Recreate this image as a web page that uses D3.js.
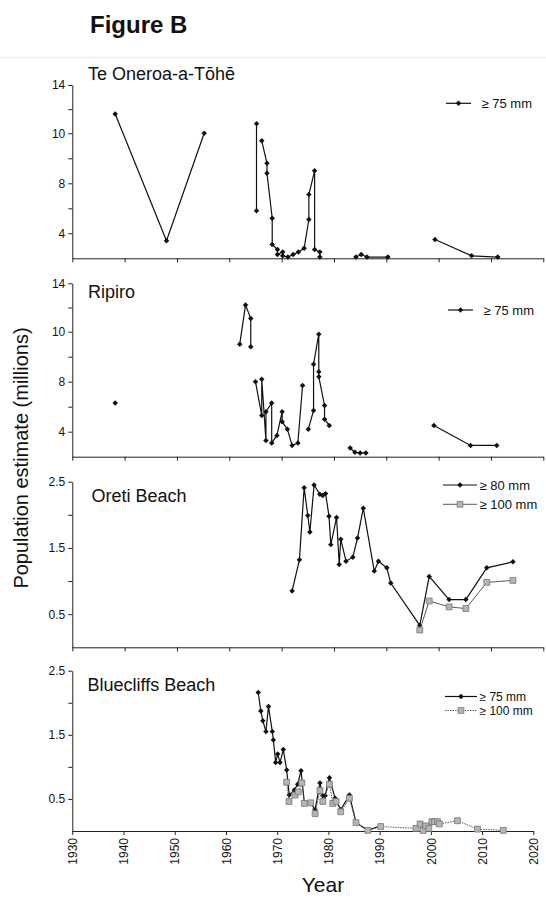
<!DOCTYPE html>
<html>
<head>
<meta charset="utf-8">
<script src="https://d3js.org/d3.v7.min.js"></script>
<style>
  body { margin: 0; background: #fff; }
  svg text { font-family: "Liberation Sans", Arial, sans-serif; fill: #111; }
</style>
</head>
<body>
<div id="chart"></div>
<script>

// [year, population in millions]; null breaks the line between surveys
var teOneroa75 = [
  [1938.2, 11.6], [1948.0, 3.4], [1955.2, 10.0], null,
  [1965.2, 10.8], [1965.2, 5.8], null,
  [1966.2, 9.7], [1967.2, 8.8], [1967.2, 8.4], [1968.2, 5.2], [1968.2, 3.1],
  [1969.2, 2.7], [1969.2, 2.3], [1970.2, 2.5], [1970.2, 2.2], [1971.2, 2.1],
  [1972.2, 2.3], [1973.2, 2.5], [1974.3, 2.8], [1975.2, 5.1], [1975.2, 7.1],
  [1976.3, 8.5], [1976.3, 2.7], [1977.3, 2.5], [1977.3, 2.1], null,
  [1984.2, 2.1], [1985.2, 2.3], [1986.3, 2.1], [1990.3, 2.1], null,
  [1999.3, 3.5], [2006.3, 2.2], [2011.3, 2.1]
];

var ripiro75 = [
  [1938.2, 6.3], null,
  [1962.0, 9.5], [1963.1, 12.2], [1964.1, 11.1], [1964.1, 9.4], null,
  [1965.0, 8.0], [1966.2, 5.3], [1966.2, 8.1], [1967.0, 3.3], [1967.0, 5.6],
  [1968.1, 6.3], [1968.1, 3.1], [1969.1, 3.7], [1970.1, 5.6], [1970.1, 4.8],
  [1971.1, 4.2], [1972.0, 2.9], [1973.1, 3.1], [1974.0, 7.7], null,
  [1975.1, 4.2], [1976.1, 5.7], [1976.1, 8.7], [1977.1, 9.9], [1977.1, 8.4],
  [1977.1, 8.2], [1978.2, 6.1], [1978.2, 5.0], [1979.1, 4.5], null,
  [1983.1, 2.7], [1984.0, 2.35], [1985.0, 2.3], [1986.1, 2.3], null,
  [1999.1, 4.5], [2006.1, 2.9], [2011.1, 2.9]
];

var oreti80 = [
  [1972.0, 0.85], [1973.4, 1.32], [1974.3, 2.41], [1975.0, 1.99], [1975.4, 1.74],
  [1976.2, 2.45], [1977.3, 2.31], [1977.85, 2.29], [1978.4, 2.32], [1979.05, 1.98],
  [1979.4, 1.55], [1980.5, 1.96], [1981.0, 1.25], [1981.3, 1.63], [1982.3, 1.30],
  [1983.6, 1.36], [1984.5, 1.65], [1985.6, 2.10], [1987.7, 1.15], [1988.5, 1.30],
  [1990.1, 1.20], [1990.85, 0.97], [1996.4, 0.33], [1998.2, 1.07], [2002.0, 0.72],
  [2005.2, 0.72], [2009.2, 1.20], [2014.2, 1.29]
];
var oreti100 = [
  [1996.4, 0.26], [1998.2, 0.70], [2002.0, 0.61], [2005.2, 0.585], [2009.2, 0.98], [2014.2, 1.01]
];

var bluecliffs75 = [
  [1966.3, 2.16], [1966.8, 1.87], [1967.2, 1.72], [1967.8, 1.55], [1968.3, 1.94],
  [1969.05, 1.55], [1969.25, 1.42], [1969.7, 1.07], [1970.1, 1.20], [1970.55, 1.07],
  [1971.2, 1.27], [1971.85, 0.95], [1972.35, 0.56], [1973.35, 0.64], [1974.0, 0.73],
  [1974.65, 0.94], [1975.3, 0.44], [1976.55, 0.44], [1977.4, 0.33], [1978.35, 0.75],
  [1978.9, 0.55], [1979.35, 0.55], [1980.2, 0.83], [1981.3, 0.51], [1982.4, 0.33],
  [1984.1, 0.56], [1985.4, 0.13], [1987.7, 0.01], [1990.2, 0.08]
];
var bluecliffs100 = [
  [1971.85, 0.76], [1972.3, 0.46], [1973.5, 0.56], [1974.1, 0.61], [1974.8, 0.75],
  [1975.3, 0.43], [1976.55, 0.44], [1977.4, 0.27], [1978.35, 0.63], [1978.9, 0.46],
  [1980.2, 0.73], [1980.85, 0.43], [1981.5, 0.46], [1982.4, 0.30], [1984.1, 0.51],
  [1985.4, 0.13], [1987.7, 0.01], [1990.2, 0.07], [1997.1, 0.04], [1997.9, 0.11],
  [1998.5, 0.01], [1999.0, 0.08], [1999.6, 0.04], [2000.2, 0.145], [2000.7, 0.145],
  [2001.3, 0.145], [2001.65, 0.11], [2005.2, 0.16], [2009.1, 0.03], [2014.15, 0.01]
];

var yearTicks = [1930, 1940, 1950, 1960, 1970, 1980, 1990, 2000, 2010, 2020];
var northTicks = [14, 12, 10, 9, 8, 6, 4];
var northTickLabels = ["14", "", "10", "", "8", "", "4"];
var southTicks = [2.5, 2, 1.5, 1, 0.5];
var southTickLabels = ["2.5", "", "1.5", "", "0.5"];

var W = 546, H = 899;

var svg = d3.select("#chart").append("svg")
    .attr("width", W)
    .attr("height", H);

svg.append("text")
    .attr("x", 90).attr("y", 33)
    .style("font-size", "24px").style("font-weight", "bold")
    .text("Figure B");

svg.append("line")
    .attr("x1", 0).attr("x2", W).attr("y1", 57.5).attr("y2", 57.5)
    .attr("stroke", "#ececec");

// the top two panels share the odd 14/10/8/4 axis of the original
var panels = [
  { name: "Te Oneroa-a-Tōhē", top: 85, bottom: 258.3, xRight: 543.3, titleX: 88, titleY: 80,
    north: true, series: [teOneroa75], legend: ["≥ 75 mm"], legX: 446, legY: 103.3, legLine: 25, legFont: 13 },
  { name: "Ripiro", top: 283.3, bottom: 456.7, xRight: 543.3, titleX: 88, titleY: 297.5,
    north: true, series: [ripiro75], legend: ["≥ 75 mm"], legX: 448, legY: 310, legLine: 25, legFont: 13 },
  { name: "Oreti Beach", top: 481.7, bottom: 647.3, xRight: 543.3, titleX: 91.5, titleY: 502,
    north: false, series: [oreti80, oreti100], legend: ["≥ 80 mm", "≥ 100 mm"], legX: 443, legY: 485, legLine: 34, legGap: 19.3, legFont: 13 },
  { name: "Bluecliffs Beach", top: 670.7, bottom: 831, xRight: 533.3, titleX: 87.5, titleY: 690.5,
    north: false, series: [bluecliffs75, bluecliffs100], legend: ["≥ 75 mm", "≥ 100 mm"], legX: 445, legY: 696.5, legLine: 32, legGap: 14, legFont: 12, dotted: true, last: true }
];

var left = 72.3;
var diamond = d3.symbol().type(d3.symbolSquare).size(15);
var square = d3.symbol().type(d3.symbolSquare).size(34);

panels.forEach(function(p) {
  var g = svg.append("g");

  var x = d3.scaleLinear().domain([1930, 2020]).range([left, p.xRight]);
  var y;
  if (p.north) {
    y = d3.scaleLinear()
      .domain([2, 4, 8, 10, 14])
      .range([p.bottom, p.bottom - 25, p.bottom - 75, p.bottom - 125, p.top]);
  } else {
    y = d3.scaleLinear().domain([0, 2.5]).range([p.bottom, p.top]);
  }

  var ticks = p.north ? northTicks : southTicks;
  var labels = p.north ? northTickLabels : southTickLabels;

  var yAxis = g.append("g")
    .attr("transform", "translate(" + left + ",0)")
    .call(d3.axisLeft(y).tickValues(ticks)
      .tickFormat(function(d, i) { return labels[i]; })
      .tickSize(4).tickSizeOuter(0).tickPadding(3));
  yAxis.selectAll("text").style("font-size", "12px");

  var xAxis = g.append("g")
    .attr("transform", "translate(0," + p.bottom + ")")
    .call(d3.axisBottom(x).tickValues(yearTicks)
      .tickFormat(p.last ? d3.format("d") : function() { return ""; })
      .tickSize(4).tickSizeOuter(0));
  if (p.last) {
    xAxis.selectAll("text")
      .attr("transform", "rotate(-90)")
      .attr("x", -7).attr("y", 0).attr("dy", "0.35em")
      .style("text-anchor", "end")
      .style("font-size", "12px");
  }
  g.selectAll(".domain, .tick line").attr("stroke", "#222").attr("stroke-width", 1);

  g.append("text")
    .attr("x", p.titleX).attr("y", p.titleY)
    .style("font-size", "18px")
    .text(p.name);

  var line = d3.line()
    .defined(function(d) { return d !== null; })
    .x(function(d) { return x(d[0]); })
    .y(function(d) { return y(d[1]); });

  p.series.forEach(function(data, k) {
    var grey = k === 1;
    g.append("path")
      .datum(data)
      .attr("fill", "none")
      .attr("stroke", grey ? "#5a5a5a" : "#111")
      .attr("stroke-width", grey ? 1 : 1.2)
      .attr("stroke-dasharray", grey && p.dotted ? "1.5,1" : null)
      .attr("d", line);

    g.selectAll(null)
      .data(data.filter(function(d) { return d !== null; }))
      .enter().append("path")
      .attr("d", grey ? square : diamond)
      .attr("transform", function(d) {
        return "translate(" + x(d[0]) + "," + y(d[1]) + ")" + (grey ? "" : " rotate(45)");
      })
      .attr("fill", grey ? "#b5b5b5" : "#111")
      .attr("stroke", grey ? "#767676" : "none")
      .attr("stroke-width", 0.8);
  });

  // legend
  p.legend.forEach(function(label, k) {
    var grey = k === 1;
    var ly = p.legY + k * (p.legGap || 0);
    var lg = g.append("g").attr("transform", "translate(" + p.legX + "," + ly + ")");
    lg.append("line")
      .attr("x1", 0).attr("x2", p.legLine)
      .attr("stroke", grey ? "#5a5a5a" : "#111")
      .attr("stroke-width", grey ? 1 : 1.2)
      .attr("stroke-dasharray", grey && p.dotted ? "1.5,1" : null);
    lg.append("path")
      .attr("d", grey ? square : diamond)
      .attr("transform", "translate(" + (p.legLine / 2) + ",0)" + (grey ? "" : " rotate(45)"))
      .attr("fill", grey ? "#b5b5b5" : "#111")
      .attr("stroke", grey ? "#767676" : "none")
      .attr("stroke-width", 0.8);
    lg.append("text")
      .attr("x", p.legLine + (p.legend.length > 1 ? 2.5 : 10.5))
      .attr("dy", "0.35em")
      .style("font-size", p.legFont + "px")
      .text(label);
  });
});

svg.append("text")
    .attr("transform", "translate(28,458) rotate(-90)")
    .style("text-anchor", "middle")
    .style("font-size", "20px")
    .text("Population estimate (millions)");

svg.append("text")
    .attr("x", 323).attr("y", 892)
    .style("text-anchor", "middle")
    .style("font-size", "21px")
    .text("Year");

</script>
</body>
</html>
